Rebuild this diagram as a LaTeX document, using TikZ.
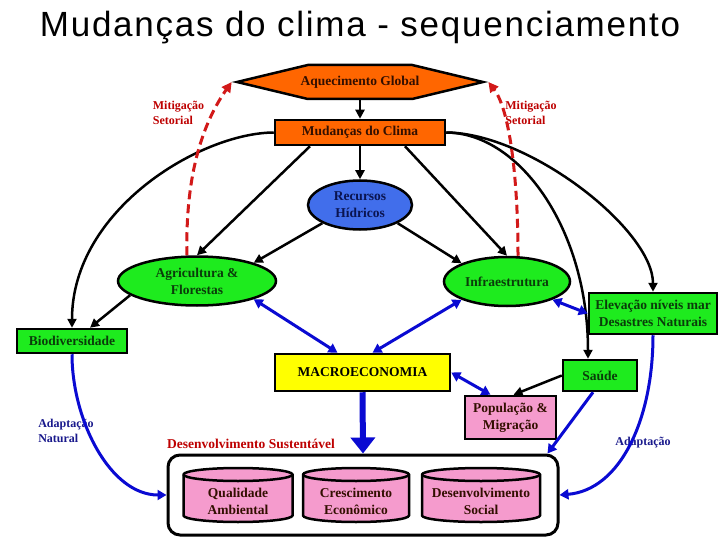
\documentclass[tikz,border=0pt]{standalone}
\usepackage{fontspec}
\setmainfont{Liberation Serif}
\newfontfamily\titlefont[LetterSpace=5]{Liberation Sans}
\usetikzlibrary{shapes.geometric,shapes.symbols,arrows.meta}
\definecolor{orng}{RGB}{255,102,0}
\definecolor{grn}{RGB}{30,235,30}
\definecolor{rblue}{RGB}{65,110,235}
\definecolor{yel}{RGB}{255,255,0}
\definecolor{pnk}{RGB}{245,155,205}
\definecolor{dgreen}{RGB}{10,60,10}
\definecolor{dnavy}{RGB}{10,20,80}
\definecolor{dbrown}{RGB}{50,15,0}
\definecolor{arrblue}{RGB}{10,10,210}
\definecolor{redd}{RGB}{210,25,25}
\definecolor{lblred}{RGB}{190,0,0}
\definecolor{lblblue}{RGB}{25,25,140}
\tikzset{
  txt/.style={font=\bfseries\fontsize{13.5}{17}\selectfont, align=center, inner sep=0pt},
  box/.style={txt, draw=black, line width=2.5pt, rectangle},
  ell/.style={txt, draw=black, line width=2.5pt, ellipse},
  blk/.style={draw=black, line width=2.5pt, -{Triangle[length=9pt,width=9pt]}},
  blu/.style={draw=arrblue, line width=3pt, {Triangle[length=9pt,width=10pt]}-{Triangle[length=9pt,width=10pt]}},
  bluone/.style={draw=arrblue, line width=3pt, -{Triangle[length=9pt,width=10pt]}},
  reddash/.style={draw=redd, line width=3pt, dash pattern=on 9pt off 5pt, -{Triangle[length=10pt,width=10pt]}},
  cylshape/.style={fill=pnk, draw=black, line width=2.5pt},
  cyltext/.style={txt, text=dbrown},
  lbl/.style={font=\bfseries\fontsize{12}{15.5}\selectfont, align=left, inner sep=0pt}
}
% cylinder outline: centre x, top y, width, height
\newcommand{\mycyl}[4]{%
  \filldraw[cylshape] ({#1-#3/2},{#2+6.5}) -- ({#1-#3/2},{#2+#4-6.5})
    arc[start angle=180,end angle=0,x radius={#3/2},y radius=6.5]
    -- ({#1+#3/2},{#2+6.5})
    arc[start angle=0,end angle=-180,x radius={#3/2},y radius=6.5] -- cycle;
  \draw[cylshape, fill=none] ({#1-#3/2},{#2+6.5})
    arc[start angle=180,end angle=0,x radius={#3/2},y radius=6.5];
}
\begin{document}
\begin{tikzpicture}[x=1pt,y=-1pt]
\useasboundingbox (0,0) rectangle (720,540);
\fill[white] (0,0) rectangle (720,540);
\node[font=\titlefont\fontsize{35}{37}\selectfont, anchor=base, inner sep=0pt] (title) at (360,37) {Mudanças do clima - sequenciamento};

\node[txt, signal, signal to=west and east, signal pointer angle=27, inner xsep=-10pt, draw=black, line width=2.5pt, fill=orng, text=dbrown, minimum width=246pt, minimum height=34pt] (aq) at (360,82) {Aquecimento Global};
\node[box, fill=orng, text=dbrown, minimum width=170pt, minimum height=25pt] (mud) at (360,132.5) {Mudanças do Clima};
\node[ell, fill=rblue, text=dnavy, minimum width=104pt, minimum height=49pt] (rec) at (360,205) {Recursos\\Hídricos};
\node[ell, fill=grn, text=dgreen, minimum width=158pt, minimum height=49pt] (agr) at (197,281) {Agricultura \&\\Florestas};
\node[ell, fill=grn, text=dgreen, minimum width=126pt, minimum height=49pt] (inf) at (507,281.5) {Infraestrutura};
\node[box, fill=grn, text=dgreen, minimum width=128pt, minimum height=41pt] (ele) at (653,313.5) {Elevação níveis mar\\Desastres Naturais};
\node[box, fill=grn, text=dgreen, minimum width=110pt, minimum height=24pt] (bio) at (72,341) {Biodiversidade};
\node[box, fill=yel, text=black, minimum width=175pt, minimum height=37pt] (mac) at (362.5,372.5) {MACROECONOMIA};
\node[box, fill=grn, text=dgreen, minimum width=74pt, minimum height=31pt] (sau) at (600,375.5) {Saúde};
\node[box, fill=pnk, text=dbrown, minimum width=91pt, minimum height=43pt] (pop) at (510.5,417.5) {População \&\\Migração};

\node[txt, text=lblred] (dslbl) at (251,444) {Desenvolvimento Sustentável};
\node[box, rounded corners=12pt, line width=3pt, minimum width=390pt, minimum height=80pt] (des) at (363,495) {};
\mycyl{238}{468}{109}{54}
\mycyl{356}{468}{106}{54}
\mycyl{481}{468}{118}{54}
\node[cyltext] (q) at (238,501) {Qualidade\\Ambiental};
\node[cyltext] (c) at (356,501) {Crescimento\\Econômico};
\node[cyltext] (d) at (481,501) {Desenvolvimento\\Social};

\node[lbl, text=lblred] (m1) at (178.5,113) {Mitigação\\Setorial};
\node[lbl, text=lblred] (m2) at (531,113) {Mitigação\\Setorial};
\node[lbl, text=lblblue] (a1) at (66,431) {Adaptação\\Natural};
\node[lbl, text=lblblue] (a2) at (643,443) {Adaptação};

% black arrows
\draw[blk] (aq.south) -- (mud.north);
\draw[blk] (mud.south) -- (rec.north);
\draw[blk] ([xshift=-50pt]mud.south) -- (agr.north);
\draw[blk] ([xshift=45pt]mud.south) -- (inf.north);
\draw[blk] (rec.south west) -- (agr.north east);
\draw[blk] (rec.south east) -- (inf.north west);
\draw[blk] (mud.west) .. controls (200,133) and (72,210) .. (bio.north);
\draw[blk] (agr.192) -- ([xshift=18pt]bio.north);
\draw[blk] (mud.east) .. controls (520,133) and (588,230) .. ([xshift=-12pt]sau.north);
\draw[blk] (mud.east) .. controls (530,133) and (653,230) .. (ele.north);
\draw[blk] (sau.west) -- ([xshift=3pt]pop.north);

% blue arrows
\draw[blu] (agr.south east) -- ([xshift=-25pt]mac.north);
\draw[blu] (inf.south west) -- ([xshift=10pt]mac.north);
\draw[blu] (inf.south east) -- (ele.west);
\draw[blu] (mac.east) -- ([xshift=-20pt]pop.north);
\draw[draw=arrblue, line width=6pt, -{Triangle[length=16pt,width=24pt]}] (mac.south) -- (des.north);
\draw[bluone] ([xshift=-7pt]sau.south) -- ([xshift=-12pt]des.north east);
\draw[bluone] (ele.south) .. controls (653,420) and (620,490) .. (des.east);
\draw[bluone] (bio.south) .. controls (72,420) and (110,495) .. (des.west);

% red dashed
\draw[reddash] ([xshift=-10pt]agr.north) .. controls (185,170) and (205,120) .. (aq.west);
\draw[reddash] ([xshift=11pt]inf.north) .. controls (518,180) and (510,110) .. (aq.east);
\end{tikzpicture}
\end{document}
